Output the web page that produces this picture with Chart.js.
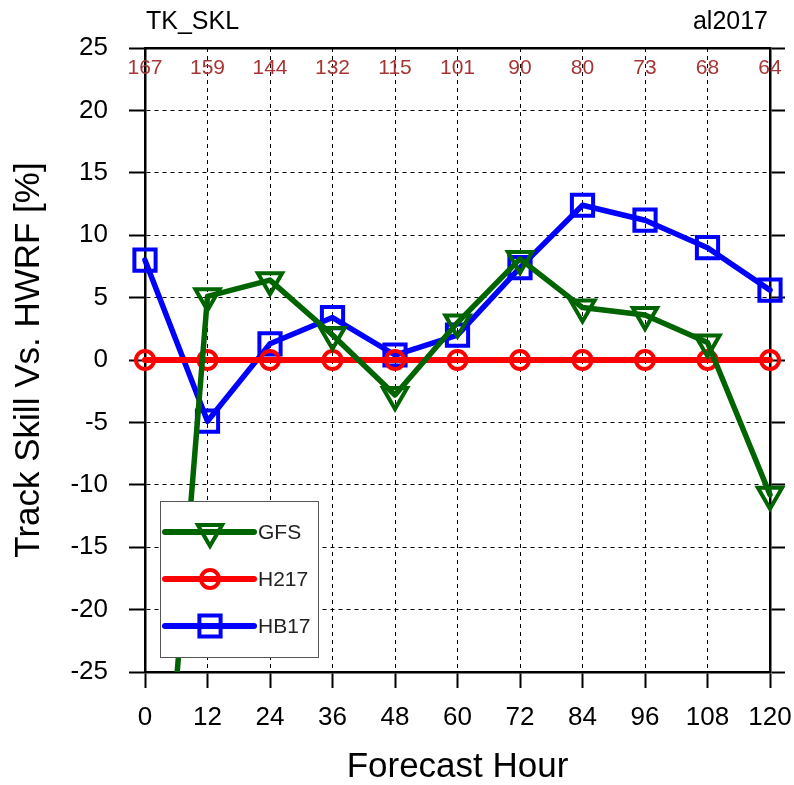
<!DOCTYPE html>
<html>
<head>
<meta charset="utf-8">
<script src="https://cdn.jsdelivr.net/npm/chart.js@4.4.1/dist/chart.umd.min.js"></script>
<style>
  html, body { margin: 0; padding: 0; background: #fff; }
  #wrap { width: 794px; height: 785px; position: relative; }
</style>
</head>
<body>
<div id="wrap"><canvas id="skillChart" width="794" height="785"></canvas></div>
<script>
// ------------------------------
// DATA
// ------------------------------
const forecastHours = [0, 12, 24, 36, 48, 60, 72, 84, 96, 108, 120];
const caseCounts = [167, 159, 144, 132, 115, 101, 90, 80, 73, 68, 64];
const gfsSkill = [-57, 5.1, 6.4, 2.0, -2.8, 3.0, 8.1, 4.2, 3.6, 1.4, -10.8];
const h217Skill = [0, 0, 0, 0, 0, 0, 0, 0, 0, 0, 0];
const hb17Skill = [8.0, -4.9, 1.3, 3.4, 0.4, 2.0, 7.4, 12.4, 11.2, 9.0, 5.6];
const leftTitle = 'TK_SKL';
const rightTitle = 'al2017';

const FONT = "'Liberation Sans', Arial, Helvetica, sans-serif";
Chart.defaults.font.family = FONT;
Chart.defaults.color = '#000';

const toPoints = vals => forecastHours.map((h, i) => ({ x: h, y: vals[i] }));

// fixed axis sizes so the plot box sits where the reference has it
const fixWidth = w => scale => { scale.width = w; };
const fixHeight = h => scale => {
  scale.height = h;
  // no extra side padding for the end tick labels
  scale.paddingLeft = 0;
  scale.paddingRight = 0;
};

// markers may spill over the side axes, lines stay cut at top/bottom
const markerClip = { left: 20, right: 20, top: 0, bottom: 0 };

// ------------------------------
// PLUGIN: header texts, case counts, in-plot legend
// ------------------------------
const extrasPlugin = {
  id: 'extras',
  afterDatasetsDraw(chart) {
    const ctx = chart.ctx;
    const xs = chart.scales.x;

    // case counts under the top axis
    ctx.save();
    ctx.fillStyle = '#a83535';
    ctx.font = `21px ${FONT}`;
    ctx.textAlign = 'center';
    ctx.textBaseline = 'middle';
    caseCounts.forEach((c, i) => {
      ctx.fillText(String(c), xs.getPixelForValue(forecastHours[i]), 68);
    });

    // header labels
    ctx.fillStyle = '#000';
    ctx.font = `25px ${FONT}`;
    ctx.textAlign = 'left';
    ctx.fillText(leftTitle, 146, 22);
    ctx.textAlign = 'right';
    ctx.fillText(rightTitle, 768, 22);
    ctx.restore();

    // legend box
    const box = { x: 160, y: 501, w: 158, h: 156 };
    ctx.save();
    ctx.fillStyle = '#fff';
    ctx.fillRect(box.x, box.y, box.w, box.h);
    ctx.strokeStyle = '#555';
    ctx.lineWidth = 1;
    ctx.strokeRect(box.x + 0.5, box.y + 0.5, box.w, box.h);

    const rowsY = [532, 579, 626];
    chart.data.datasets.forEach((ds, i) => {
      const y = rowsY[i];
      ctx.strokeStyle = ds.borderColor;
      ctx.lineWidth = 6;
      ctx.lineCap = 'round';
      ctx.beginPath();
      ctx.moveTo(165, y);
      ctx.lineTo(254, y);
      ctx.stroke();
      ctx.fillStyle = 'rgba(0,0,0,0)';
      ctx.lineWidth = ds.pointBorderWidth;
      Chart.helpers.drawPoint(ctx, {
        pointStyle: ds.pointStyle,
        rotation: ds.pointRotation || 0,
        radius: ds.pointRadius,
        borderWidth: ds.pointBorderWidth
      }, 210, y);
      ctx.fillStyle = '#222';
      ctx.font = `21px ${FONT}`;
      ctx.textAlign = 'left';
      ctx.textBaseline = 'middle';
      ctx.fillText(ds.label, 258, y + 1);
    });
    ctx.restore();
  }
};

// ------------------------------
// CHART
// ------------------------------
const ctx = document.getElementById('skillChart').getContext('2d');
new Chart(ctx, {
  type: 'line',
  data: {
    datasets: [
      {
        label: 'GFS',
        data: toPoints(gfsSkill),
        borderColor: '#006400',
        backgroundColor: 'rgba(0,0,0,0)',
        borderWidth: 5.5,
        pointStyle: 'triangle',
        pointRotation: 180,
        pointRadius: 14,
        pointBorderWidth: 4,
        pointBackgroundColor: 'rgba(0,0,0,0)',
        clip: markerClip,
        order: 0
      },
      {
        label: 'H217',
        data: toPoints(h217Skill),
        borderColor: '#ff0000',
        backgroundColor: 'rgba(0,0,0,0)',
        borderWidth: 6,
        pointStyle: 'circle',
        pointRadius: 9,
        pointBorderWidth: 4,
        pointBackgroundColor: 'rgba(0,0,0,0)',
        clip: markerClip,
        order: 1
      },
      {
        label: 'HB17',
        data: toPoints(hb17Skill),
        borderColor: '#0000ff',
        backgroundColor: 'rgba(0,0,0,0)',
        borderWidth: 5.5,
        pointStyle: 'rect',
        pointRadius: 15,
        pointBorderWidth: 4,
        pointBackgroundColor: 'rgba(0,0,0,0)',
        clip: markerClip,
        order: 2
      }
    ]
  },
  options: {
    responsive: false,
    animation: false,
    layout: { padding: 0 },
    elements: {
      line: { tension: 0, borderCapStyle: 'round', borderJoinStyle: 'round' },
      point: { hoverRadius: 14 }
    },
    scales: {
      x: {
        type: 'linear',
        position: 'bottom',
        min: 0,
        max: 120,
        afterFit: fixHeight(113),
        ticks: { stepSize: 12, font: { size: 26 }, padding: 14, maxRotation: 0 },
        grid: {
          color: '#000', lineWidth: 1, tickLength: 16,
          tickColor: '#000', tickWidth: 2, tickBorderDash: []
        },
        border: { display: true, color: '#000', width: 2.5, dash: [4, 4] },
        title: {
          display: true,
          text: 'Forecast Hour',
          font: { size: 35, lineHeight: 1 },
          padding: { top: 0, bottom: 0 }
        }
      },
      x2: {
        type: 'linear',
        position: 'top',
        min: 0,
        max: 120,
        afterFit: fixHeight(48),
        ticks: { display: false, stepSize: 120 },
        grid: { drawOnChartArea: false, drawTicks: false },
        border: { display: true, color: '#000', width: 2.5 }
      },
      y: {
        position: 'left',
        min: -25,
        max: 25,
        afterFit: fixWidth(145),
        ticks: { stepSize: 5, font: { size: 26 }, padding: 21 },
        grid: {
          color: '#000', lineWidth: 1, tickLength: 16,
          tickColor: '#000', tickWidth: 2, tickBorderDash: []
        },
        border: { display: true, color: '#000', width: 2.5, dash: [4, 4] },
        title: {
          display: true,
          text: 'Track Skill Vs. HWRF [%]',
          font: { size: 35, lineHeight: 1 },
          padding: { top: 12, bottom: 0 }
        }
      },
      y2: {
        position: 'right',
        min: -25,
        max: 25,
        afterFit: fixWidth(24),
        ticks: { stepSize: 5, display: false },
        grid: {
          drawOnChartArea: false, tickLength: 15,
          tickColor: '#000', tickWidth: 2
        },
        border: { display: true, color: '#000', width: 2.5 }
      }
    },
    plugins: {
      legend: { display: false },
      tooltip: { enabled: false },
      title: { display: false }
    }
  },
  plugins: [extrasPlugin]
});
</script>
</body>
</html>
